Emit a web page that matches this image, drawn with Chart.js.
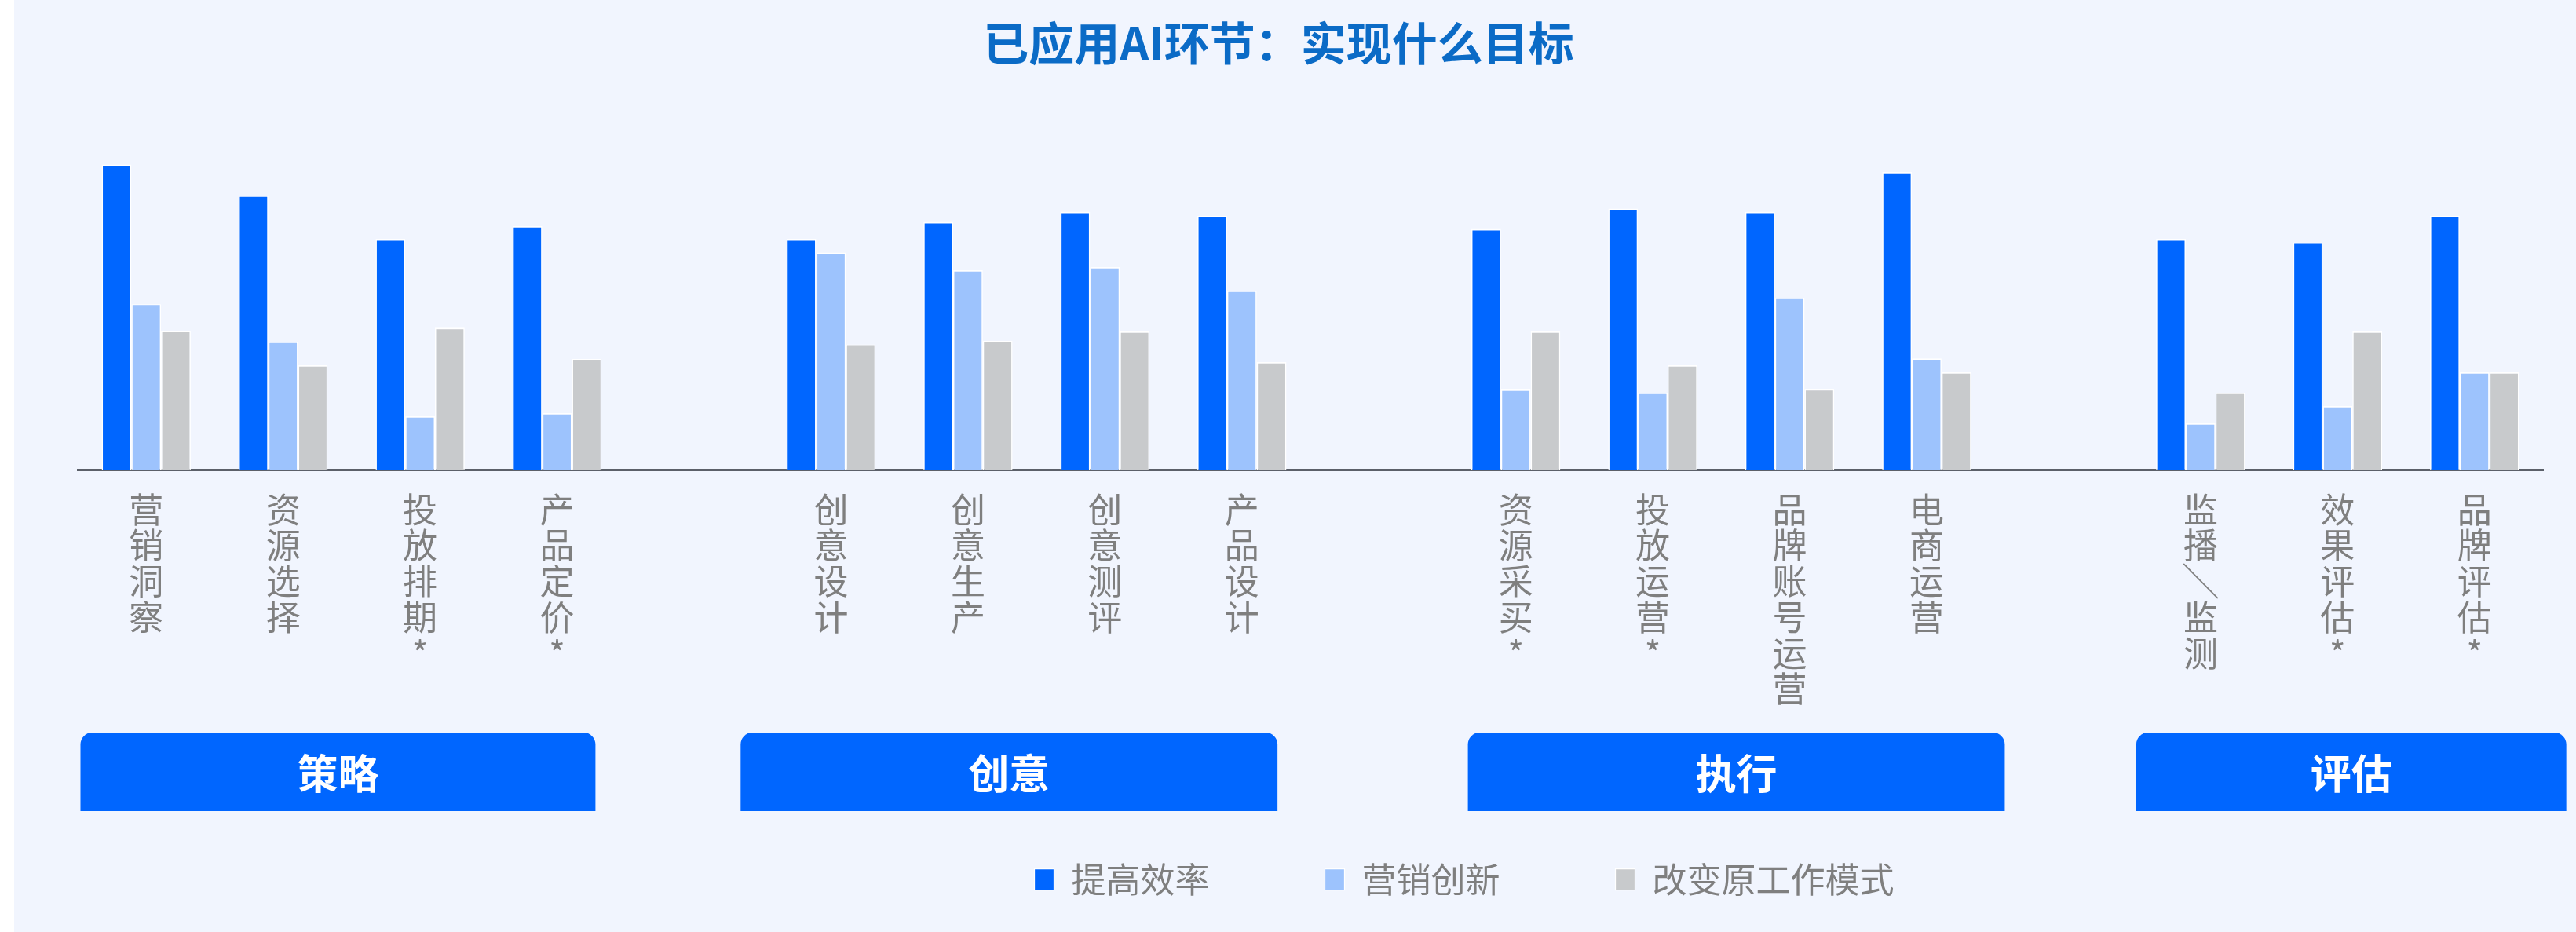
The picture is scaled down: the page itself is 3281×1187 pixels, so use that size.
<!DOCTYPE html>
<html>
<head>
<meta charset="utf-8">
<script src="https://cdn.jsdelivr.net/npm/chart.js@4/dist/chart.umd.min.js"></script>
<style>
  html, body { margin: 0; padding: 0; }
  body {
    width: 3281px;
    height: 1187px;
    overflow: hidden;
    background: linear-gradient(to right, #fff 18px, #f1f5fe 18px);
  }
  canvas { display: block; }
</style>
</head>
<body>
<canvas id="chart" width="3281" height="1187"></canvas>
<script>
'use strict';

// empty strings / nulls are the spacer slots between the four stages
const categories = ['营销洞察', '资源选择', '投放排期*', '产品定价*', '',
  '创意设计', '创意生产', '创意测评', '产品设计', '',
  '资源采买*', '投放运营*', '品牌账号运营', '电商运营', '',
  '监播/监测', '效果评估*', '品牌评估*'];

const efficiency = [59.7, 53.7, 45.1, 47.7, null, 45.1, 48.5, 50.5, 49.7, null, 47.1, 51.1, 50.5, 58.3, null, 45.1, 44.5, 49.7];
const innovation = [32.4, 25.1, 10.5, 11.1, null, 42.5, 39.1, 39.7, 35.1, null, 15.7, 15.1, 33.7, 21.8, null, 9.1, 12.5, 19.1];
const workMode = [27.2, 20.5, 27.8, 21.7, null, 24.5, 25.2, 27.1, 21.1, null, 27.1, 20.5, 15.8, 19.1, null, 15.1, 27.1, 19.1];

const seriesNames = ['提高效率', '营销创新', '改变原工作模式'];
const seriesColors = ['#0066ff', '#9dc3fd', '#c8cacc'];

const stages = ['策略', '创意', '执行', '评估'];

Chart.defaults.font.family = '"Noto Sans CJK SC", "Noto Sans", sans-serif';

// labels are written top to bottom, one character per line
function verticalLabel(name) {
  if (!name) return '';
  return name.replace('/', '╲').split('');
}

// stage banners under the labels; spans are in category units so they follow the x scale
const stageBoxes = {
  id: 'stageBoxes',
  afterDraw(chart, args, opts) {
    const ctx = chart.ctx;
    const x = chart.scales.x;
    const step = x.getPixelForValue(1) - x.getPixelForValue(0);
    const px = v => x.getPixelForValue(0) + v * step;
    const top = chart.chartArea.bottom + 335;
    const h = 100;
    stages.forEach((name, i) => {
      const [a, b] = opts.spans[i];
      const left = px(a);
      const right = px(b);
      ctx.save();
      ctx.fillStyle = '#0066ff';
      ctx.beginPath();
      ctx.roundRect(left, top, right - left, h, [15, 15, 0, 0]);
      ctx.fill();
      ctx.fillStyle = '#fff';
      ctx.font = 'bold 52px "Noto Sans CJK SC", sans-serif';
      ctx.textAlign = 'center';
      ctx.textBaseline = 'middle';
      ctx.fillText(name, (left + right) / 2, top + h / 2 + 2);
      ctx.restore();
    });
  }
};

// title sits a bit left of centre, legend well right of it
const blockShift = {
  id: 'blockShift',
  afterLayout(chart) {
    const t = chart.titleBlock;
    t.left = 0;
    t.right = chart.width - 24;
    const lg = chart.legend;
    const dx = 1865 - (lg.left + lg.right) / 2;
    lg.left += dx;
    lg.right += dx;
  }
};

const canvasEl = document.getElementById('chart');

const chartObj = new Chart(canvasEl, {
  type: 'bar',
  data: {
    labels: categories,
    datasets: [efficiency, innovation, workMode].map((vals, i) => ({
      label: seriesNames[i],
      data: vals,
      backgroundColor: seriesColors[i],
      borderColor: '#ffffff',
      borderWidth: { top: 2, left: 1.5, right: 1.5, bottom: 0 },
      borderSkipped: 'bottom',
      categoryPercentage: 0.65,
      barPercentage: 1.0
    }))
  },
  options: {
    responsive: false,
    animation: false,
    devicePixelRatio: 1,
    layout: { padding: { left: 99, right: 42, top: 0, bottom: 35 } },
    plugins: {
      title: {
        display: true,
        text: '已应用AI环节：实现什么目标',
        color: '#0b6bc6',
        font: { size: 58, weight: 'bold' },
        padding: { top: 20, bottom: 53 }
      },
      legend: {
        position: 'bottom',
        labels: {
          color: '#7f7f7f',
          font: { size: 44 },
          boxWidth: 25,
          boxHeight: 27,
          padding: 147
        }
      },
      tooltip: { enabled: false },
      stageBoxes: {
        spans: [[-0.48, 3.28], [4.34, 8.26], [9.65, 13.57], [14.53, 17.67]]
      }
    },
    scales: {
      x: {
        grid: { display: false, drawTicks: false },
        border: { display: true, color: '#5b6069', width: 3 },
        ticks: {
          color: '#7f7f7f',
          font: { size: 44, lineHeight: 1.04 },
          padding: 28,
          maxRotation: 0,
          autoSkip: false,
          callback(v) { return verticalLabel(categories[v]); }
        },
        afterFit(scale) { scale.height = 353; }
      },
      y: { display: false, min: 0, max: 70 }
    }
  },
  plugins: [stageBoxes, blockShift]
});
</script>
</body>
</html>
